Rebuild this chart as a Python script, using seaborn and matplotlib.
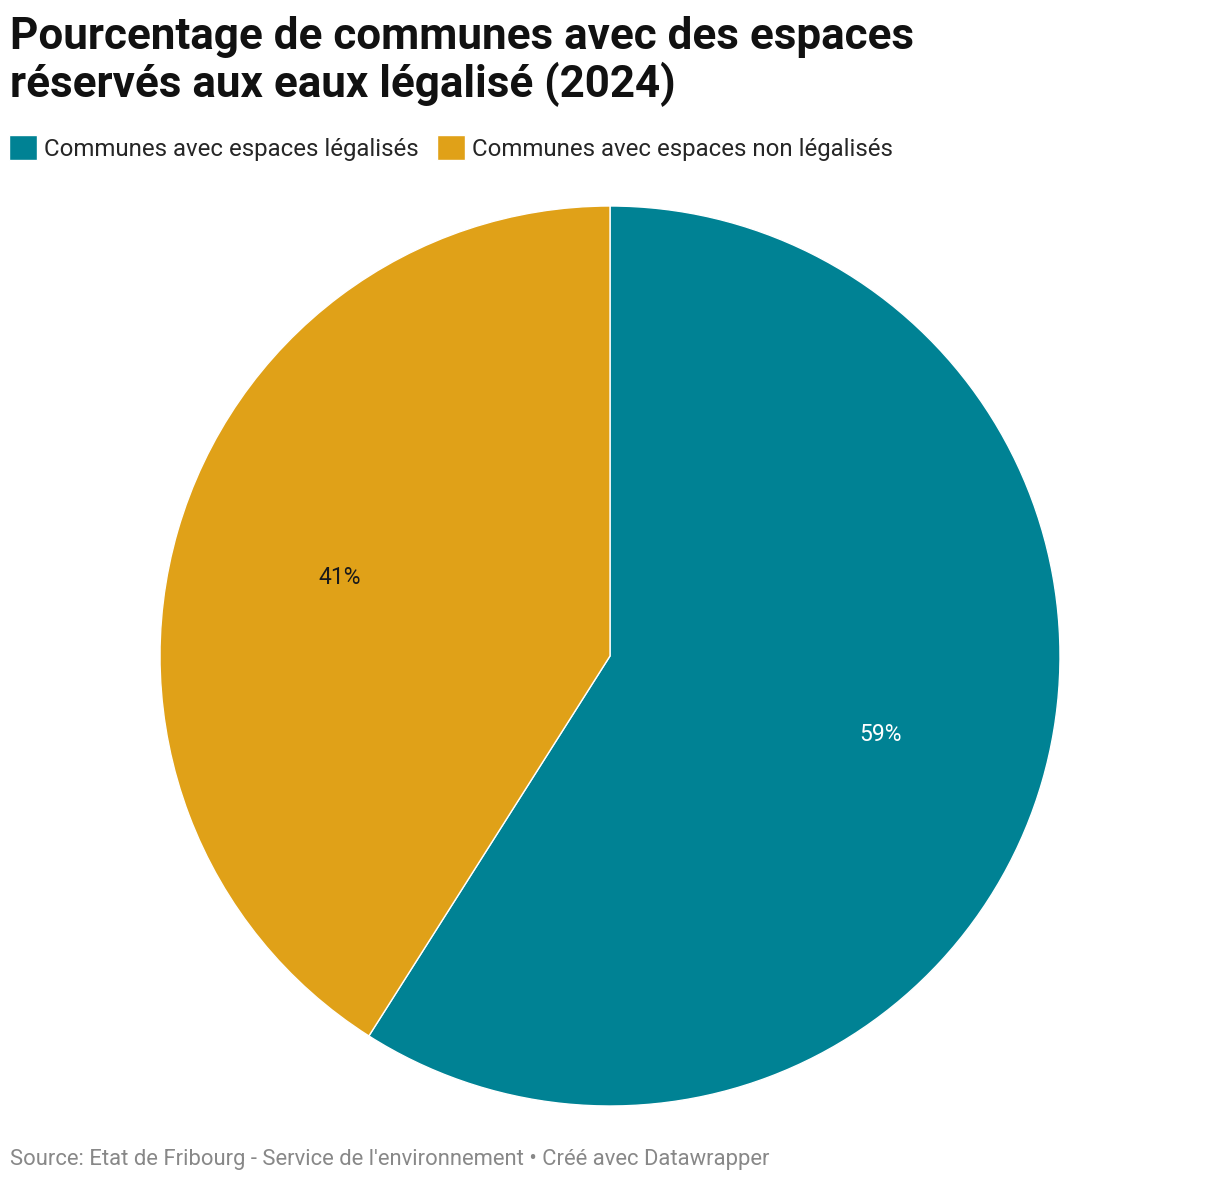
import seaborn as sns
import matplotlib.pyplot as plt

categories = ['Communes avec espaces légalisés', 'Communes avec espaces non légalisés']
values = [59, 41]
colors = ['#008294', '#E0A118']

sns.set_theme(style='white')
plt.rcParams['font.family'] = ['Roboto', 'DejaVu Sans']

fig = plt.figure(figsize=(12.2, 11.82), dpi=100)
W, H = 1220, 1182
cx, cy, r = 610, 656, 450
ax = fig.add_axes([(cx - r) / W, (H - cy - r) / H, 2 * r / W, 2 * r / H])

wedges, texts, autotexts = ax.pie(values, colors=colors, startangle=90, counterclock=False,
                                  autopct='%.0f%%', pctdistance=0.625,
                                  wedgeprops=dict(edgecolor='white', linewidth=1))
autotexts[0].set_color('white')
autotexts[1].set_color('#1a1a1a')
for t in autotexts:
    t.set_fontsize(16.5)
ax.set_xlim(-1, 1)
ax.set_ylim(-1, 1)
ax.set_aspect('equal')
ax.axis('off')

fig.text(10 / W, 1 - 16 / H, 'Pourcentage de communes avec des espaces\nréservés aux eaux légalisé (2024)',
         fontsize=31.7, fontweight='bold', va='top', ha='left', color='#111111', linespacing=1.12)

fig.legend(wedges, categories, loc='center left', bbox_to_anchor=(9 / W, 1 - 148 / H),
           ncol=2, frameon=False, fontsize=17.3, handlelength=1.17, handleheight=1.17,
           handletextpad=0.3, columnspacing=0.75, borderaxespad=0, borderpad=0)

fig.text(10 / W, 1 - 1159 / H, "Source: Etat de Fribourg - Service de l'environnement • Créé avec Datawrapper",
         fontsize=15.8, color='#888888', va='center', ha='left')

fig.savefig('out.png', dpi=100, facecolor='white')
